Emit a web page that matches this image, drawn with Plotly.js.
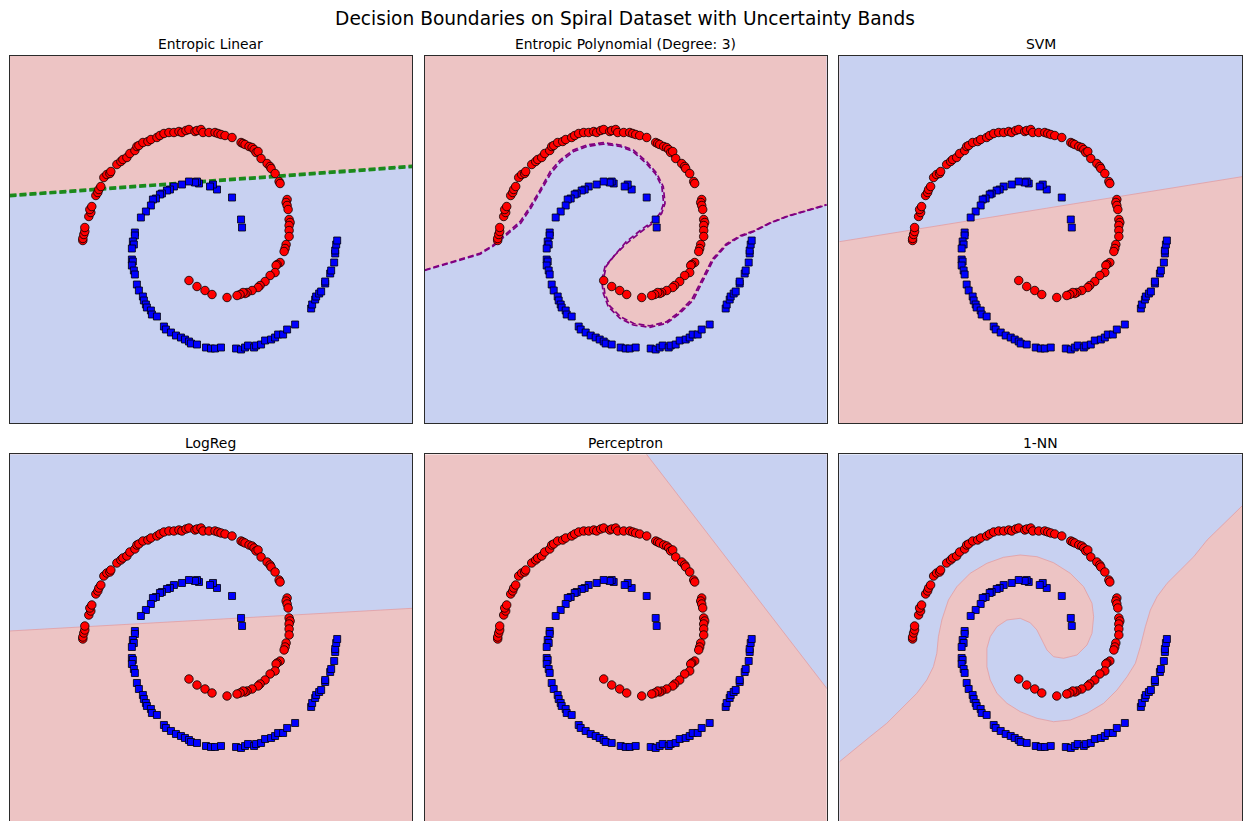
<!DOCTYPE html>
<html>
<head>
<meta charset="utf-8">
<script src="https://cdn.plot.ly/plotly-3.0.1.min.js"></script>
<style>html,body{margin:0;padding:0;background:#fff;}#chart{width:1244px;height:821px;}</style>
</head>
<body>
<div id="chart"></div>
<script>
// ---- Data ----
const figTitle = "Decision Boundaries on Spiral Dataset with Uncertainty Bands";
const panelTitles = ["Entropic Linear", "Entropic Polynomial (Degree: 3)", "SVM", "LogReg", "Perceptron", "1-NN"];

// class 0 (red circles)
const redX = [-128,-128,-127,-126,-126,-122,-120,-121,-119,-115,
  -113,-112,-110,-107,-104,-101,-100,-94,-90,-88,
  -84,-81,-76,-74,-72,-68,-63,-60,-54,-51,
  -47,-42,-37,-32,-29,-25,-22,-16,-14,-10,
  -8,-2,4,7,10,14,21,30,32,34,
  38,41,43,45,47,50,56,59,60,64,
  68,69,76,75,76,77,78,79,78,78,
  78,75,74,73,69,66,65,64,59,54,
  49,47,41,36,34,32,29,26,16,-22,
  -14,-6,1];
const redY = [-1,1,5,8,12,23,27,30,33,44,
  47,50,53,62,65,66,68,75,78,80,
  82,86,89,93,94,97,98,100,102,104,
  106,107,107,108,107,109,110,108,109,110,
  107,107,107,106,105,104,102,97,96,95,
  93,92,90,87,88,81,76,73,71,66,
  58,56,40,37,34,30,20,17,14,9,
  3,-5,-9,-12,-23,-25,-26,-33,-36,-42,
  -46,-48,-51,-53,-54,-53,-55,-56,-58,-41,
  -47,-51,-55];

// class 1 (blue squares)
const blueX = [31,30,21,6,2,-1,-12,-14,-16,-22,
  -29,-37,-41,-44,-49,-51,-55,-58,-60,-65,
  -70,-76,-76,-78,-77,-79,-79,-78,-79,-77,
  -76,-74,-72,-68,-67,-65,-64,-60,-59,-54,
  -47,-45,-40,-35,-30,-26,-22,-20,-14,-5,
  0,4,10,25,30,34,37,43,45,50,
  54,60,64,67,72,76,84,100,101,104,
  105,108,110,114,114,119,120,123,124,124,
  125,126];
const blueY = [12,20,42,50,55,53,56,58,57,58,
  55,53,50,49,46,45,41,40,34,28,
  22,7,4,-2,-5,-9,-20,-22,-26,-31,
  -35,-45,-51,-57,-61,-65,-68,-71,-75,-77,
  -87,-90,-93,-96,-98,-100,-102,-104,-105,-108,
  -109,-109,-108,-109,-110,-108,-106,-108,-106,-105,
  -101,-100,-98,-95,-95,-90,-85,-69,-65,-60,
  -57,-54,-52,-44,-42,-34,-31,-23,-14,-11,
  -5,-1];

// Entropic Linear boundary and its uncertainty band
const linX = [-201.2, 201];
const linY = [44.5, 73.8];
const linBandY = [43.2, 72.4];

// Entropic Polynomial boundary and its uncertainty band
const polyX = [-201,-172.4,-145.7,-132.4,-119,-105.7,-95.7,-85.7,-75.7,-65.7,
  -52.4,-39,-22.4,-5.7,7.6,21,31,37.6,39.3,36,
  29.3,17.6,1,-12.4,-20.7,-24,-22.4,-17.4,-5.7,7.6,
  24.3,41,54.3,67.6,77.6,87.6,101,114.3,127.6,144.3,
  161,177.6,201];
const polyY = [-30.5,-22.2,-13.8,-5.5,6.2,17.8,32.8,49.5,67.8,79.5,
  89.5,94.5,96.8,94.5,89.5,77.8,66.2,52.8,36.2,26.2,
  17.8,9.5,-3.8,-17.2,-27.2,-40.5,-53.8,-67.2,-78.8,-85.5,
  -87.8,-83.8,-73.8,-60.5,-40.5,-20.5,-5.5,2.8,7.8,16.2,
  22.8,27.8,34.5];
const polyBandX = [-201,-172.4,-145.7,-132.4,-118.5,-104.9,-94.6,-84.6,-74.6,-64.9,
  -52,-38.8,-22.4,-5.9,6.8,19.8,29.8,36.2,37.9,34.8,
  28.4,16.8,0.3,-11.2,-19.3,-22.5,-21,-16,-4.9,8.1,
  24.3,40.5,53.4,66.3,76.3,86.6,100.5,114.2,127.6,144.3,
  161,177.6,201];
const polyBandY = [-31,-22.9,-14.7,-6.5,4.9,16.4,31.7,48.5,66.4,78,
  88,93,95.4,93.2,88.3,76.9,65.6,52.7,36.4,26.9,
  18.9,10.8,-2.4,-15.9,-26.4,-40.3,-53.4,-66.4,-77.4,-84,
  -86.4,-82.4,-72.7,-59.5,-39.8,-19.8,-4.5,3.7,8.4,16.7,
  23.2,28.2,34.9];

// SVM / LogReg / Perceptron boundaries
const svmX = [-201.2, 201];
const svmY = [-2.2, 62.8];
const logX = [-201.2, 201];
const logY = [7, 29.7];
const percX = [16, 210];
const percY = [190, -62];

// 1-NN boundary
const nnX = [-201,-187.2,-170.5,-153.8,-137.2,-123.8,-113.8,-107.2,-103.8,-102.2,
  -98.8,-92.2,-83.8,-70.5,-53.8,-37.2,-20.5,-3.8,12.8,29.5,
  42.8,51.2,52.8,51.2,46.2,36.2,22.8,12.8,6.2,1.2,
  -3.8,-10.5,-20.5,-33.8,-43.8,-50.5,-53.8,-53.8,-50.5,-43.8,
  -33.8,-20.5,-3.8,12.8,29.5,46.2,62.8,76.2,86.2,94.5,
  99.5,104.5,109.5,116.2,126.2,139.5,152.8,166.2,179.5,192.8,
  201];
const nnY = [-123.7,-112,-98.7,-85.3,-68.7,-55.3,-42,-28.7,-15.3,1.3,
  18,38,51.3,64.7,74.7,80.7,83,81.3,75.3,64.7,
  51.3,34.7,21.3,4.7,-7,-17,-20.3,-18.7,-12,-2,
  8,15.3,19.7,18,11.3,1.3,-10.3,-28.7,-42,-55.3,
  -65.3,-73.7,-80.3,-83.7,-82,-75.3,-65.3,-52,-38.7,-25.3,
  -8.7,11.3,28,41.3,54.7,68,81.3,98,111.3,124.7,
  132];

// ---- Styling / layout ----
const PINK = "rgb(237,196,196)";
const BLUE = "rgb(200,209,241)";
const EDGE = "rgba(226,160,166,0.85)";
const FONT = "DejaVu Sans";
const XR = [-201.2, 201];
const YR1 = [-183.8, 183.5];
const YR2 = [-183, 183.5];
const colDom = [[0.00764, 0.33143], [0.34124, 0.66455], [0.67468, 0.99839]];
const rowDom = [[0.48441, 0.93179], [0, 0.44641]];

const panels = [
  {base: BLUE, fill: PINK, bx: linX, by: linY, side: "top",
   lines: [{x: linX, y: linBandY, color: "#1c8a1c", width: 2.4, dash: "7px,3px"},
           {x: linX, y: linY, color: "#1c8a1c", width: 2.4, dash: "7px,3px"}]},
  {base: BLUE, fill: PINK, bx: polyX, by: polyY, side: "top",
   lines: [{x: polyBandX, y: polyBandY, color: "#800080", width: 1.7, dash: "6px,3px"},
           {x: polyX, y: polyY, color: "#800080", width: 1.7, dash: "6px,3px"}]},
  {base: PINK, fill: BLUE, bx: svmX, by: svmY, side: "top",
   lines: [{x: svmX, y: svmY, color: EDGE, width: 1, dash: "solid"}]},
  {base: PINK, fill: BLUE, bx: logX, by: logY, side: "top",
   lines: [{x: logX, y: logY, color: EDGE, width: 1, dash: "solid"}]},
  {base: PINK, fill: BLUE, bx: percX, by: percY, side: "top",
   lines: [{x: percX, y: percY, color: EDGE, width: 1, dash: "solid"}]},
  {base: BLUE, fill: PINK, bx: nnX, by: nnY, side: "bottom",
   lines: [{x: nnX, y: nnY, color: EDGE, width: 1, dash: "solid"}]}
];

const traces = [];
const shapes = [];
const annotations = [];
const layout = {
  width: 1244, height: 821,
  margin: {l: 0, r: 0, t: 0, b: 0, pad: 0},
  paper_bgcolor: "#ffffff", plot_bgcolor: "#ffffff",
  showlegend: false,
  font: {family: FONT, color: "#000"},
  title: {text: figTitle, x: 0.5024, xanchor: "center", y: 0.9769, yanchor: "middle",
          font: {family: FONT, size: 18.6, color: "#000"}}
};

panels.forEach((p, i) => {
  const n = i + 1;
  const xa = n === 1 ? "x" : "x" + n;
  const ya = n === 1 ? "y" : "y" + n;
  const row = i < 3 ? 0 : 1;
  const col = i % 3;
  const axCommon = {showgrid: false, zeroline: false, showticklabels: false, ticks: "",
    showline: true, mirror: true, linecolor: "#2b2b2b", linewidth: 1, fixedrange: true};
  layout["xaxis" + (n === 1 ? "" : n)] = Object.assign({}, axCommon,
    {domain: colDom[col], range: XR, anchor: ya});
  layout["yaxis" + (n === 1 ? "" : n)] = Object.assign({}, axCommon,
    {domain: rowDom[row], range: row === 0 ? YR1 : YR2, anchor: xa});

  shapes.push({type: "rect", xref: xa + " domain", yref: ya + " domain",
    x0: 0, x1: 1, y0: 0, y1: 1, fillcolor: p.base, line: {width: 0}, layer: "below"});

  const yc = p.side === "top" ? 260 : -260;
  traces.push({x: p.bx.concat([p.bx[p.bx.length - 1], p.bx[0]]),
    y: p.by.concat([yc, yc]), mode: "lines", fill: "toself", fillcolor: p.fill,
    line: {width: 0}, xaxis: xa, yaxis: ya, hoverinfo: "skip"});

  p.lines.forEach(l => {
    traces.push({x: l.x, y: l.y, mode: "lines",
      line: {color: l.color, width: l.width, dash: l.dash},
      xaxis: xa, yaxis: ya, hoverinfo: "skip"});
  });

  traces.push({x: redX, y: redY, mode: "markers", xaxis: xa, yaxis: ya,
    marker: {symbol: "circle", size: 8.5, color: "#ff0000", line: {color: "#000", width: 0.8}}});
  traces.push({x: blueX, y: blueY, mode: "markers", xaxis: xa, yaxis: ya,
    marker: {symbol: "square", size: 7, color: "#0000ff", line: {color: "#000", width: 0.8}}});

  const xc = (colDom[col][0] + colDom[col][1]) / 2;
  annotations.push({text: panelTitles[i], xref: "paper", yref: "paper",
    x: xc, y: row === 0 ? 0.9464 : 0.4604, xanchor: "center", yanchor: "middle",
    showarrow: false, font: {family: FONT, size: 13.9, color: "#000"}});
});

layout.shapes = shapes;
layout.annotations = annotations;

Plotly.newPlot("chart", traces, layout, {staticPlot: true, displayModeBar: false});
</script>
</body>
</html>
